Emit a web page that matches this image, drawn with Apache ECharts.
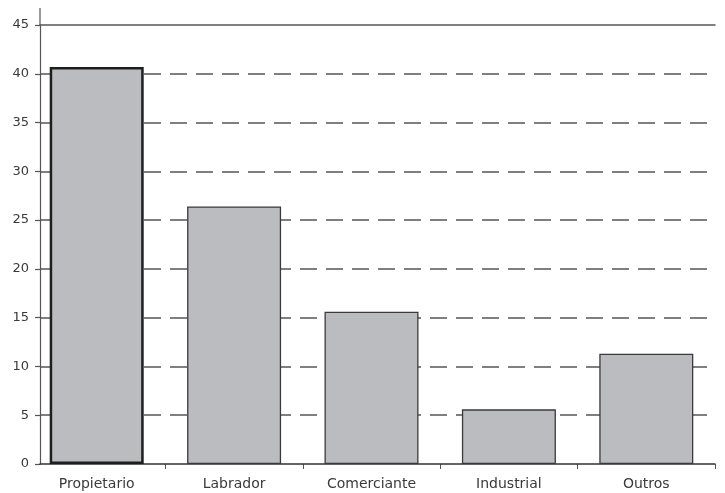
<!DOCTYPE html>
<html>
<head>
<meta charset="utf-8">
<script src="https://cdn.jsdelivr.net/npm/echarts@6/dist/echarts.min.js"></script>
<style>
  html, body { margin: 0; padding: 0; background: #fff; }
  #chart { width: 725px; height: 493px; }
</style>
</head>
<body>
<div id="chart"></div>
<script>
// Occupation categories and their percentages
const categories = ['Propietario', 'Labrador', 'Comerciante', 'Industrial', 'Outros'];
const values = [40.7, 26.4, 15.6, 5.6, 11.3];
const yTicks = [0, 5, 10, 15, 20, 25, 30, 35, 40, 45];

const FONT = 'DejaVu Sans';
const AXIS = '#555';
const TXT = '#3a3a3a';

const chart = echarts.init(document.getElementById('chart'), null, { renderer: 'canvas' });

const TOP = 25, BOTTOM = 29;

chart.setOption({
  animation: false,
  backgroundColor: '#fff',
  grid: [
    // bars
    { left: 28, right: 10, top: TOP, bottom: BOTTOM },
    // frame: y axis, gridlines, baseline, top rule
    { left: 40, right: 10, top: TOP, bottom: BOTTOM }
  ],
  xAxis: [
    {
      type: 'category', gridIndex: 0, data: categories,
      axisLine: { show: false },
      axisTick: { show: true, length: 5, lineStyle: { color: AXIS, width: 1 },
                  interval: i => i > 0 },
      axisLabel: { color: TXT, fontFamily: FONT, fontSize: 14, margin: 13, interval: 0 }
    },
    {
      type: 'value', gridIndex: 1, position: 'bottom', min: 0, max: 1, z: 5,
      axisLine: { show: true, lineStyle: { color: '#333', width: 1.5 } },
      axisTick: { show: false }, axisLabel: { show: false }, splitLine: { show: false }
    },
    {
      type: 'value', gridIndex: 1, position: 'top', min: 0, max: 1, z: 5,
      axisLine: { show: true, lineStyle: { color: '#555', width: 1.5 } },
      axisTick: { show: false }, axisLabel: { show: false }, splitLine: { show: false }
    }
  ],
  yAxis: [
    {
      type: 'value', gridIndex: 0, min: 0, max: yTicks[yTicks.length - 1], interval: 5,
      show: false
    },
    {
      type: 'value', gridIndex: 1, min: 0, max: yTicks[yTicks.length - 1], interval: 5,
      axisLine: { show: true, lineStyle: { color: AXIS, width: 1.2 } },
      axisTick: { show: true, length: 5, lineStyle: { color: AXIS, width: 1.2 } },
      axisLabel: {
        color: TXT, fontFamily: FONT, fontSize: 13, margin: 11,
        formatter: v => (yTicks.indexOf(v) >= 0 ? String(v) : '')
      },
      splitLine: {
        show: true,
        showMinLine: false,
        showMaxLine: false,
        lineStyle: { color: '#555', width: 1.5, type: [17, 9] }
      }
    }
  ],
  graphic: [
    // axis line continues a little above the top rule
    {
      type: 'line', shape: { x1: 40, y1: 8, x2: 40, y2: TOP }, z: 10,
      style: { stroke: AXIS, lineWidth: 1.2 }
    }
  ],
  series: [
    {
      type: 'bar', xAxisIndex: 0, yAxisIndex: 0,
      barWidth: 94,
      z: 6,
      data: values.map((v, i) => ({
        value: v,
        itemStyle: {
          color: '#bbbcc0',
          borderColor: i === 0 ? '#1e1e1e' : '#3a3a3a',
          borderWidth: i === 0 ? 2.5 : 1.3
        }
      }))
    }
  ]
});
</script>
</body>
</html>
